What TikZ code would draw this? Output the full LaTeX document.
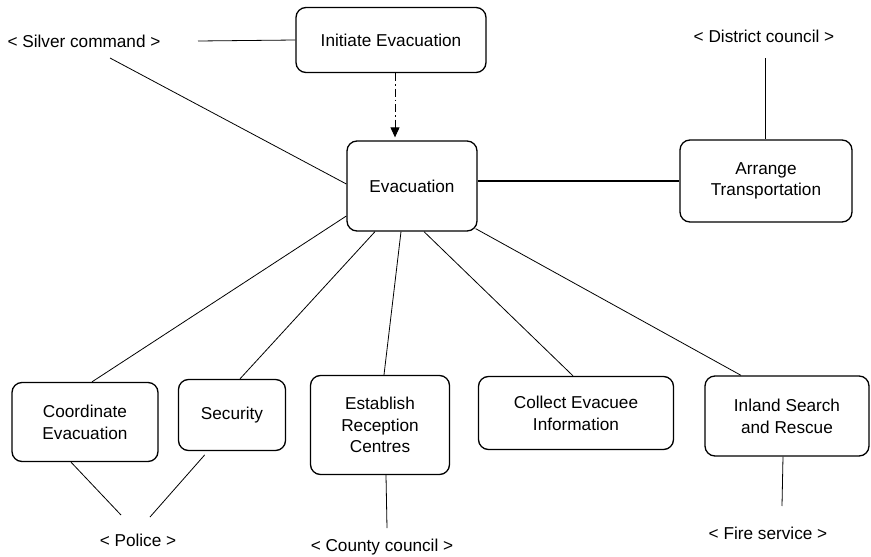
\documentclass[tikz,border=0pt]{standalone}
\usepackage{fontspec}
\setmainfont{Liberation Sans}
\usetikzlibrary{arrows.meta}

\begin{document}
\begin{tikzpicture}[x=1pt, y=-1pt, >=Stealth,
    every node/.style={font=\fontsize{17.2}{21.7}\selectfont},
    task/.style={draw, line width=1.3pt, rounded corners=10pt, align=center, inner sep=0pt},
    link/.style={line width=0.8pt},
    trigger/.style={line width=1pt, dash pattern=on 8pt off 3pt on 1.5pt off 3pt,
      -{Triangle[length=10pt,width=9pt]}}]
  \useasboundingbox (0,0) rectangle (871,557);

  % Tasks
  \node[task, minimum width=190pt, minimum height=65pt] (init) at (391,40) {Initiate Evacuation};
  \node[task, minimum width=130pt, minimum height=90pt] (evac) at (412,186) {Evacuation};
  \node[task, minimum width=172pt, minimum height=82pt] (trans) at (766,181) {Arrange\\Transportation};
  \node[task, minimum width=146pt, minimum height=79pt] (coord) at (85,422) {Coordinate\\Evacuation};
  \node[task, minimum width=107pt, minimum height=71pt] (secur) at (232,415) {Security};
  \node[task, minimum width=139pt, minimum height=99pt] (recep) at (380,425) {Establish\\Reception\\Centres};
  \node[task, minimum width=195pt, minimum height=73pt] (info) at (576,413) {Collect Evacuee\\Information};
  \node[task, minimum width=164pt, minimum height=80pt] (rescue) at (787,416) {Inland Search\\and Rescue};

  % Actors
  \node (silver) at (84,41) {< Silver command >};
  \node (district) at (764,36) {< District council >};
  \node (police) at (138,540) {< Police >};
  \node (county) at (382,547) {< County council >};
  \node (fire) at (768,533) {< Fire service >};

  % Free ends near the actors
  \coordinate (silverA) at (198,41);
  \coordinate (silverB) at (110,58);
  \coordinate (districtA) at (765,58);
  \coordinate (policeA) at (121,515);
  \coordinate (policeB) at (150,517);
  \coordinate (countyA) at (387,528);
  \coordinate (fireA) at (782,506);

  % Trigger
  \draw[trigger, shorten >=3pt] ([xshift=4pt]init.south) -- ([xshift=4pt]init.south |- evac.north);

  % Responsibilities
  \draw[link] (silverA) -- (init.west);
  \draw[link] (silverB) -- ([yshift=2pt]evac.west);
  \draw[link] (districtA) -- ([xshift=-1pt]trans.north);
  \draw[link] (policeA) -- ([xshift=-14pt]coord.south);
  \draw[link, shorten >=5pt] (policeB) -- ([xshift=-24pt]secur.south);
  \draw[link] (countyA) -- ([xshift=6pt]recep.south);
  \draw[link] (fireA) -- ([xshift=-4pt]rescue.south);

  % Sub-tasks
  \draw[line width=1.6pt] (evac.east |- trans.west) -- (trans.west);
  \draw[link] ([yshift=-30pt]evac.west) -- ([xshift=7pt]coord.north);
  \draw[link] ([xshift=-37pt]evac.south) -- ([xshift=8pt]secur.north);
  \draw[link] ([xshift=-11pt]evac.south) -- ([xshift=4pt]recep.north);
  \draw[link] ([xshift=12pt]evac.south) -- ([xshift=-3pt]info.north);
  \draw[link] ([xshift=-2pt,yshift=3pt]evac.south east) -- ([xshift=-46pt]rescue.north);
\end{tikzpicture}
\end{document}
